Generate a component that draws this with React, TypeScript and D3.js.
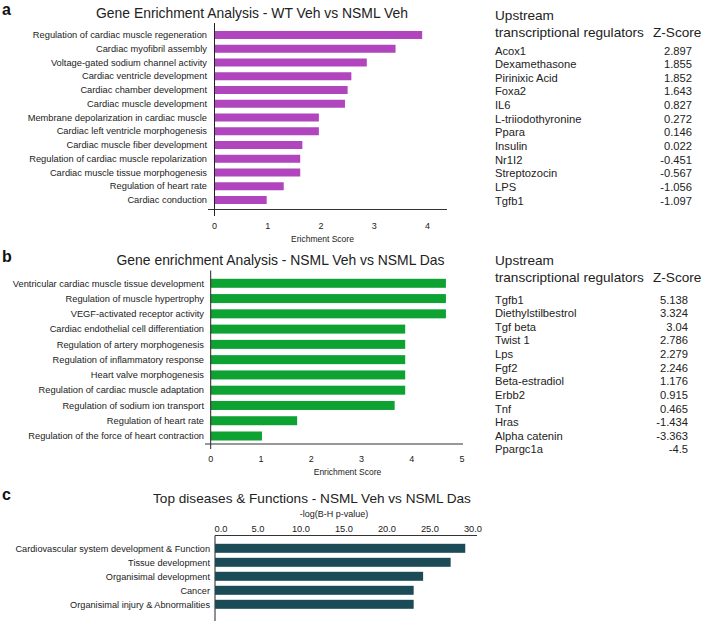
import React from "react";
import * as d3 from "d3";

const aCategories = [
  "Regulation of cardiac muscle regeneration",
  "Cardiac myofibril assembly",
  "Voltage-gated sodium channel activity",
  "Cardiac ventricle development",
  "Cardiac chamber development",
  "Cardiac muscle development",
  "Membrane depolarization in cardiac muscle",
  "Cardiac left ventricle morphogenesis",
  "Cardiac muscle fiber development",
  "Regulation of cardiac muscle repolarization",
  "Cardiac muscle tissue morphogenesis",
  "Regulation of heart rate",
  "Cardiac conduction",
];
const aValues = [3.9, 3.4, 2.86, 2.57, 2.5, 2.45, 1.96, 1.96, 1.65, 1.61, 1.61, 1.3, 0.98];
const aTicks = [0, 1, 2, 3, 4];

const aRegulators = ["Acox1", "Dexamethasone", "Pirinixic Acid", "Foxa2", "IL6", "L-triiodothyronine", "Ppara", "Insulin", "Nr1I2", "Streptozocin", "LPS", "Tgfb1"];
const aZScores = ["2.897", "1.855", "1.852", "1.643", "0.827", "0.272", "0.146", "0.022", "-0.451", "-0.567", "-1.056", "-1.097"];

const bCategories = [
  "Ventricular cardiac muscle tissue development",
  "Regulation of muscle hypertrophy",
  "VEGF-activated receptor activity",
  "Cardiac endothelial cell differentiation",
  "Regulation of artery morphogenesis",
  "Regulation of inflammatory response",
  "Heart valve morphogenesis",
  "Regulation of cardiac muscle adaptation",
  "Regulation of sodium ion transport",
  "Regulation of heart rate",
  "Regulation of the force of heart contraction",
];
const bValues = [4.68, 4.68, 4.68, 3.87, 3.87, 3.87, 3.87, 3.87, 3.66, 1.72, 1.02];
const bTicks = [0, 1, 2, 3, 4, 5];

const bRegulators = ["Tgfb1", "Diethylstilbestrol", "Tgf beta", "Twist 1", "Lps", "Fgf2", "Beta-estradiol", "Erbb2", "Tnf", "Hras", "Alpha catenin", "Ppargc1a"];
const bZScores = ["5.138", "3.324", "3.04", "2.786", "2.279", "2.246", "1.176", "0.915", "0.465", "-1.434", "-3.363", "-4.5"];

const cCategories = [
  "Cardiovascular system development & Function",
  "Tissue development",
  "Organisimal development",
  "Cancer",
  "Organisimal injury & Abnormalities",
];
const cValues = [29.1, 27.4, 24.2, 23.1, 23.1];
const cTicks = [0, 5, 10, 15, 20, 25, 30];

const FONT = "'Liberation Sans', Arial, sans-serif";
const PURPLE = "#b145bd";
const GREEN = "#0ea233";
const TEAL = "#1a4b56";
const TEXT = "#222";

function RegTable({ x, yHeader, yRow0, step, names, scores, valueX }: any) {
  return (
    <g fontFamily={FONT} fill={TEXT}>
      <text x={x} y={yHeader} fontSize={13.6}>Upstream</text>
      <text x={x} y={yHeader + 17} fontSize={13.6}>transcriptional regulators</text>
      <text x={653} y={yHeader + 17} fontSize={13.6}>Z-Score</text>
      {names.map((n: string, i: number) => (
        <g key={n + i}>
          <text x={x} y={yRow0 + i * step} fontSize={11.2}>{n}</text>
          <text x={valueX} y={yRow0 + i * step} fontSize={11.2} textAnchor="end">{scores[i]}</text>
        </g>
      ))}
    </g>
  );
}

export default function App() {
  // Panel a scales
  const ax = d3.scaleLinear().domain([0, 4]).range([214.5, 427.5]);
  const ay = d3.scalePoint<string>().domain(aCategories).range([35, 200]);
  // Panel b scales
  const bx = d3.scaleLinear().domain([0, 5]).range([210.7, 462]);
  const by = d3.scalePoint<string>().domain(bCategories).range([283.3, 436]);
  // Panel c scales
  const cx = d3.scaleLinear().domain([0, 30]).range([215, 473]);
  const cy = d3.scalePoint<string>().domain(cCategories).range([548.3, 604.3]);

  return (
    <svg width={707} height={621} style={{ position: "absolute", left: 0, top: 0, background: "#fff" }}>
      <rect width={707} height={621} fill="#fff" />
      {/* Panel a */}
      <g fontFamily={FONT}>
        <text x={2} y={15} fontSize={16} fontWeight="bold" fill="#111">a</text>
        <text x={252} y={18} fontSize={13.9} textAnchor="middle" fill={TEXT}>Gene Enrichment Analysis - WT Veh vs NSML Veh</text>
        {aCategories.map((c, i) => (
          <g key={c}>
            <rect x={ax(0)} y={(ay(c) as number) - 4} width={ax(aValues[i]) - ax(0)} height={8} fill={PURPLE} />
            <text x={207} y={(ay(c) as number) + 3.2} fontSize={9.3} textAnchor="end" fill={TEXT}>{c}</text>
          </g>
        ))}
        <line x1={ax(0)} x2={ax(0)} y1={23} y2={216} stroke="#222" strokeWidth={1} />
        <line x1={208} x2={447} y1={209.5} y2={209.5} stroke="#333" strokeWidth={1.2} />
        {aTicks.map((t) => (
          <text key={t} x={ax(t)} y={229} fontSize={9} textAnchor="middle" fill={TEXT}>{t}</text>
        ))}
        <text x={322.5} y={241.5} fontSize={8.5} textAnchor="middle" fill={TEXT}>Erichment Score</text>
      </g>
      <RegTable x={495} yHeader={20} yRow0={54.5} step={13.66} names={aRegulators} scores={aZScores} valueX={692} />

      {/* Panel b */}
      <g fontFamily={FONT}>
        <text x={2} y={262} fontSize={16} fontWeight="bold" fill="#111">b</text>
        <text x={280.5} y={265} fontSize={13.9} textAnchor="middle" fill={TEXT}>Gene enrichment Analysis - NSML Veh vs NSML Das</text>
        {bCategories.map((c, i) => (
          <g key={c}>
            <rect x={bx(0)} y={(by(c) as number) - 4.5} width={bx(bValues[i]) - bx(0)} height={9} fill={GREEN} />
            <text x={204} y={(by(c) as number) + 3.2} fontSize={9.3} textAnchor="end" fill={TEXT}>{c}</text>
          </g>
        ))}
        <line x1={bx(0)} x2={bx(0)} y1={270.5} y2={449} stroke="#222" strokeWidth={1} />
        <line x1={205} x2={463} y1={444} y2={444} stroke="#333" strokeWidth={1.2} />
        {bTicks.map((t) => (
          <text key={t} x={bx(t)} y={461.5} fontSize={9} textAnchor="middle" fill={TEXT}>{t}</text>
        ))}
        <text x={347.5} y={475} fontSize={8.5} textAnchor="middle" fill={TEXT}>Enrichment Score</text>
      </g>
      <RegTable x={495} yHeader={265} yRow0={303.5} step={13.63} names={bRegulators} scores={bZScores} valueX={688} />

      {/* Panel c */}
      <g fontFamily={FONT}>
        <text x={2} y={500} fontSize={16} fontWeight="bold" fill="#111">c</text>
        <text x={312} y={502.5} fontSize={13.6} textAnchor="middle" fill={TEXT}>Top diseases &amp; Functions - NSML Veh vs NSML Das</text>
        <text x={334} y={516.5} fontSize={9} textAnchor="middle" fill={TEXT}>-log(B-H p-value)</text>
        {cTicks.map((t, i) => (
          <text key={t} x={cx(t) + (i === 0 ? 6 : 0)} y={531.5} fontSize={9.3} textAnchor="middle" fill={TEXT}>{t.toFixed(1)}</text>
        ))}
        <line x1={cx(0)} x2={477} y1={535.5} y2={535.5} stroke="#333" strokeWidth={1.2} />
        <line x1={cx(0)} x2={cx(0)} y1={535.5} y2={621} stroke="#222" strokeWidth={1} />
        {cCategories.map((c, i) => (
          <g key={c}>
            <rect x={cx(0)} y={(cy(c) as number) - 4.5} width={cx(cValues[i]) - cx(0)} height={9} fill={TEAL} />
            <text x={210} y={(cy(c) as number) + 3.3} fontSize={9.2} textAnchor="end" fill={TEXT}>{c}</text>
          </g>
        ))}
      </g>
    </svg>
  );
}
